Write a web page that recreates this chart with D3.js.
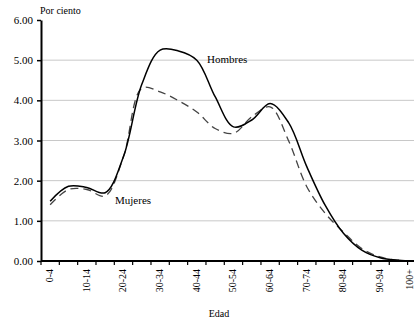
<!DOCTYPE html>
<html><head><meta charset="utf-8">
<script src="https://cdn.jsdelivr.net/npm/d3@7"></script>
<style>body{margin:0;background:#fff}svg{display:block} text{font-family:"Liberation Serif",serif !important;}</style>
</head><body>
<script>
const categories = ["0-4","5-9","10-14","15-19","20-24","25-29","30-34","35-39","40-44","45-49","50-54","55-59","60-64","65-69","70-74","75-79","80-84","85-89","90-94","95-99","100+"];
const hombres = [1.49,1.86,1.83,1.70,2.60,4.40,5.25,5.23,5.00,4.09,3.34,3.51,3.92,3.45,2.35,1.39,0.69,0.27,0.08,0.02,0.00];
const mujeres = [1.40,1.78,1.78,1.62,2.60,4.30,4.21,3.99,3.71,3.30,3.18,3.59,3.84,3.00,1.85,1.19,0.72,0.31,0.10,0.02,0.00];
const yTicks = [0,1,2,3,4,5,6];
const labelCats = categories.filter((d,i)=>i%2===0);

const W=414,H=322;
const svg=d3.select("body").append("svg").attr("width",W).attr("height",H);
const x0=41, x1=41+21*18.33, y0=261, y1=20;
const x=d3.scaleBand().domain(categories).range([x0,x1]);
const y=d3.scaleLinear().domain([0,6]).range([y0,y1]);

svg.append("g").selectAll("line").data(yTicks.filter(d=>d>0&&d<6)).join("line")
  .attr("x1",x0).attr("x2",W).attr("y1",d=>y(d)).attr("y2",d=>y(d))
  .attr("stroke","#c8c8c8").attr("stroke-width",1);

const line=(vals)=>d3.line().x((d,i)=>x(categories[i])+x.bandwidth()/2).y(d=>y(d)).curve(d3.curveCatmullRom.alpha(0.5))(vals);
svg.append("path").attr("d",line(mujeres)).attr("fill","none").attr("stroke","#444").attr("stroke-width",1.3).attr("stroke-dasharray","8,5");
svg.append("path").attr("d",line(hombres)).attr("fill","none").attr("stroke","#000").attr("stroke-width",1.5);

const ya=svg.append("g").attr("transform",`translate(${x0},0)`)
  .call(d3.axisLeft(y).tickValues(yTicks).tickFormat(d3.format(".2f")).tickSize(4).tickSizeOuter(0));
ya.select(".domain").attr("stroke","#000").attr("stroke-width",2);
ya.selectAll(".tick line").attr("stroke","#000").attr("stroke-width",1.5);
ya.selectAll("text").attr("font-size",11).attr("fill","#000").attr("x",-8);

const xa=svg.append("g").attr("transform",`translate(0,${y0})`);
xa.append("line").attr("x1",x0).attr("x2",W).attr("y1",0).attr("y2",0).attr("stroke","#000").attr("stroke-width",2);
xa.selectAll("line.tk").data(categories.concat(["end"])).join("line").attr("class","tk")
  .attr("x1",(d,i)=>x0+i*x.step()).attr("x2",(d,i)=>x0+i*x.step()).attr("y1",0).attr("y2",4)
  .attr("stroke","#000").attr("stroke-width",1.2);
xa.selectAll("text").data(labelCats).join("text")
  .attr("transform",(d,i)=>`translate(${Math.min(x(d)+x.bandwidth()/2+3,413)},8) rotate(-90)`)
  .attr("text-anchor","end").attr("font-size",10).text(d=>d);

svg.append("text").attr("x",40).attr("y",14).attr("font-size",10).text("Por ciento");
svg.append("text").attr("x",W/2+12).attr("y",317).attr("text-anchor","middle").attr("font-size",10).text("Edad");
svg.append("text").attr("x",207).attr("y",63).attr("font-size",11).text("Hombres");
svg.append("text").attr("x",115).attr("y",204).attr("font-size",11).text("Mujeres");
</script>
</body></html>
